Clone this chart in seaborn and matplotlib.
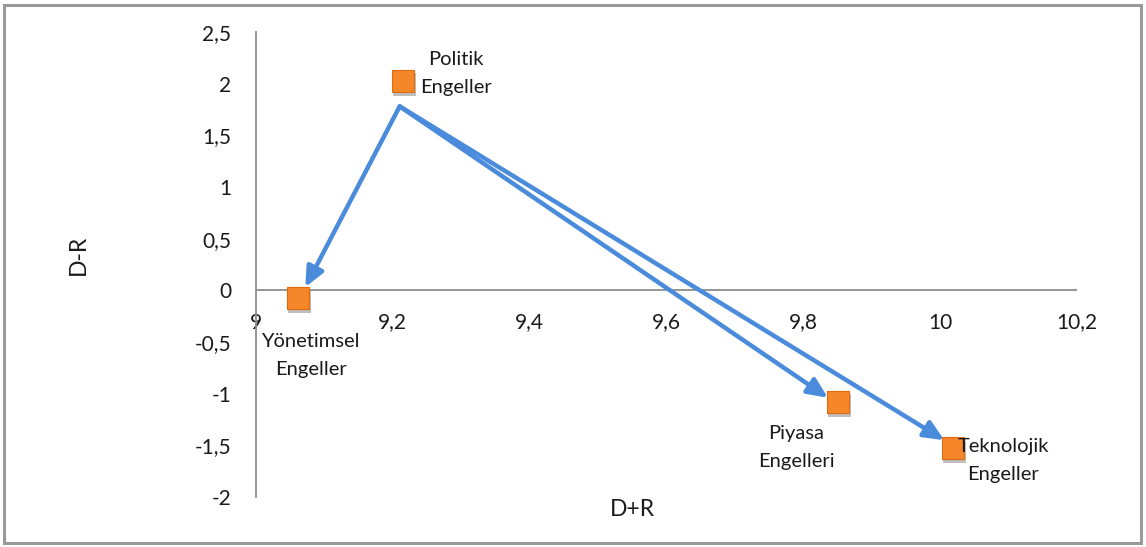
import matplotlib
matplotlib.use("Agg")
import matplotlib.pyplot as plt
from matplotlib.patches import Rectangle
import seaborn as sns
import pandas as pd

# Barrier groups positioned by prominence (D+R) and relation (D-R)
labels = ["Politik\nEngeller", "Yönetimsel\nEngeller", "Piyasa\nEngelleri", "Teknolojik\nEngeller"]
d_plus_r = [9.215, 9.062, 9.851, 10.019]
d_minus_r = [2.03, -0.07, -1.08, -1.53]

# Causal arrows: from the political barriers to the affected groups
arrow_from_x = [9.21, 9.21, 9.21]
arrow_from_y = [1.78, 1.78, 1.78]
arrow_to_x = [9.072, 9.836, 10.006]
arrow_to_y = [0.03, -1.04, -1.45]

x_ticks = [9, 9.2, 9.4, 9.6, 9.8, 10, 10.2]
y_ticks = [-2, -1.5, -1, -0.5, 0, 0.5, 1, 1.5, 2, 2.5]

df = pd.DataFrame({"D+R": d_plus_r, "D-R": d_minus_r, "label": labels})

sns.set_theme(style="white")
plt.rcParams["font.family"] = ["Lato", "DejaVu Sans"]

fig = plt.figure(figsize=(11.46, 5.47), dpi=100)
ax = fig.add_axes([0.2234, 0.0914, 0.7164, 0.8501])

ax.set_xlim(9, 10.2)
ax.set_ylim(-2, 2.5)

# Marker shadow, then the markers
sns.scatterplot(x=[v + 0.002 for v in d_plus_r], y=[v - 0.035 for v in d_minus_r],
                marker="s", s=270, color="#6f6f6f", alpha=0.45, edgecolor="none",
                ax=ax, legend=False, zorder=3)
sns.scatterplot(data=df, x="D+R", y="D-R", marker="s", s=270, color="#F5862A",
                edgecolor="#E06A10", linewidth=0.8, ax=ax, legend=False, zorder=4)

for x0, y0, x1, y1 in zip(arrow_from_x, arrow_from_y, arrow_to_x, arrow_to_y):
    ax.annotate("", xy=(x1, y1), xytext=(x0, y0),
                arrowprops=dict(arrowstyle="-|>,head_length=1.0,head_width=0.45",
                                color="#4A8BDB", lw=3.2, shrinkA=0, shrinkB=0),
                zorder=5)

# Point labels
label_pos = [(9.292, 2.10), (9.08, -0.63), (9.79, -1.52), (10.092, -1.65)]
for (lx, ly), text in zip(label_pos, labels):
    ax.text(lx, ly, text, ha="center", va="center", fontsize=14.5,
            color="#1a1a1a", linespacing=1.8, zorder=6)

# Excel-like axes: vertical axis at x=9, horizontal axis crossing at y=0
for side in ["top", "right", "bottom"]:
    ax.spines[side].set_visible(False)
ax.spines["left"].set_color("#8c8c8c")
ax.spines["left"].set_linewidth(1.3)
ax.axhline(0, color="#8c8c8c", lw=1.3, zorder=1)

ax.set_xticks(x_ticks)
ax.set_yticks(y_ticks)
fmt = lambda v: (f"{v:g}").replace(".", ",")
ax.set_xticklabels([fmt(v) for v in x_ticks])
ax.set_yticklabels([fmt(v) for v in y_ticks])
ax.tick_params(axis="both", length=0, labelsize=15, colors="#1a1a1a")
ax.tick_params(axis="y", pad=18)

# x tick labels sit just below the zero line
ax.spines["bottom"].set_position(("data", 0))
ax.spines["bottom"].set_visible(False)
ax.tick_params(axis="x", pad=16)

ax.set_xlabel("")
ax.set_ylabel("")
fig.text(632 / 1146, 1 - 510 / 547, "D+R", ha="center", va="center", fontsize=16.5, color="#1a1a1a")
fig.text(78 / 1146, 1 - 255 / 547, "D-R", ha="center", va="center", fontsize=16.5,
         rotation=90, color="#1a1a1a")

# Chart frame
fig.patches.append(Rectangle((4 / 1146, 4 / 547), 1 - 9 / 1146, 1 - 9 / 547,
                             transform=fig.transFigure, fill=False,
                             edgecolor="#9a9a9a", lw=2.2))

fig.savefig("out.png", dpi=100)
